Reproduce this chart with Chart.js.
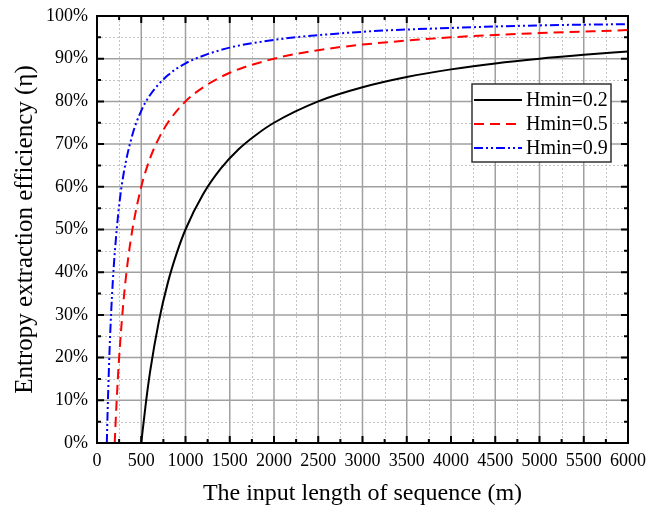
<!DOCTYPE html>
<html>
<head>
<meta charset="utf-8">
<script src="https://cdn.jsdelivr.net/npm/chart.js@4.4.0/dist/chart.umd.min.js"></script>
<style>
  html, body { margin: 0; background: #fff; }
  #wrap { width: 660px; height: 508px; }
</style>
</head>
<body>
<div id="wrap"><canvas id="effChart"></canvas></div>
<script>
// values
const seriesLabels = ['Hmin=0.2', 'Hmin=0.5', 'Hmin=0.9'];

const lengthA = [500, 550, 600, 700, 800, 900, 1000, 1200, 1400, 1600, 1800, 2000, 2500, 3000, 3500, 4000, 4500, 5000, 5500, 6000];
const effA    = [0, 9, 16.7, 28.6, 37.5, 44.4, 50, 58.3, 64.3, 68.8, 72.2, 75, 80, 83.3, 85.7, 87.5, 88.9, 90, 90.9, 91.7];

const lengthB = [200, 220, 250, 300, 350, 400, 500, 600, 700, 800, 1000, 1200, 1500, 2000, 2500, 3000, 4000, 5000, 6000];
const effB    = [0, 9, 20, 33.3, 42.9, 50, 60, 66.7, 71.4, 75, 80, 83.3, 86.7, 90, 92, 93.3, 95, 96, 96.7];

const lengthC = [111, 120, 140, 160, 180, 200, 250, 300, 400, 500, 600, 800, 1000, 1200, 1500, 2000, 3000, 4000, 5000, 6000];
const effC    = [0, 7.4, 20.6, 30.6, 38.3, 44.4, 55.6, 63, 72.2, 77.8, 81.5, 86.1, 88.9, 90.7, 92.6, 94.4, 96.3, 97.2, 97.8, 98.1];

const xMajor = [0, 500, 1000, 1500, 2000, 2500, 3000, 3500, 4000, 4500, 5000, 5500, 6000];
const yMajor = [0, 10, 20, 30, 40, 50, 60, 70, 80, 90, 100];

const serif = "'Liberation Serif', 'Times New Roman', serif";

function pts(xs, ys) {
  return xs.map((x, i) => ({x: x, y: ys[i]}));
}

const frameGrid = {
  id: 'frameGrid',
  beforeDatasetsDraw(chart) {
    const {ctx, chartArea: a, scales: {x, y}} = chart;
    ctx.save();
    // minor dotted grid
    ctx.strokeStyle = '#c4c4c4';
    ctx.lineWidth = 1;
    ctx.setLineDash([2, 2]);
    for (let i = 0; i < xMajor.length - 1; i++) {
      const px = Math.round(x.getPixelForValue((xMajor[i] + xMajor[i + 1]) / 2)) + 0.5;
      ctx.beginPath(); ctx.moveTo(px, a.top); ctx.lineTo(px, a.bottom); ctx.stroke();
    }
    for (let i = 0; i < yMajor.length - 1; i++) {
      const py = Math.round(y.getPixelForValue((yMajor[i] + yMajor[i + 1]) / 2)) + 0.5;
      ctx.beginPath(); ctx.moveTo(a.left, py); ctx.lineTo(a.right, py); ctx.stroke();
    }
    // major solid grid
    ctx.setLineDash([]);
    ctx.strokeStyle = '#a0a0a0';
    ctx.lineWidth = 1.5;
    xMajor.forEach(v => {
      const px = x.getPixelForValue(v);
      ctx.beginPath(); ctx.moveTo(px, a.top); ctx.lineTo(px, a.bottom); ctx.stroke();
    });
    yMajor.forEach(v => {
      const py = y.getPixelForValue(v);
      ctx.beginPath(); ctx.moveTo(a.left, py); ctx.lineTo(a.right, py); ctx.stroke();
    });
    ctx.restore();
  },
  afterDatasetsDraw(chart) {
    const {ctx, chartArea: a, scales: {x, y}} = chart;
    ctx.save();
    ctx.strokeStyle = '#000';
    ctx.lineWidth = 2;
    ctx.strokeRect(a.left, a.top, a.right - a.left, a.bottom - a.top);
    // inward ticks on all four sides
    xMajor.forEach((v, i) => {
      const px = x.getPixelForValue(v);
      ctx.beginPath();
      ctx.moveTo(px, a.bottom); ctx.lineTo(px, a.bottom - 7);
      ctx.moveTo(px, a.top); ctx.lineTo(px, a.top + 7);
      if (i < xMajor.length - 1) {
        const pm = x.getPixelForValue((v + xMajor[i + 1]) / 2);
        ctx.moveTo(pm, a.bottom); ctx.lineTo(pm, a.bottom - 4);
        ctx.moveTo(pm, a.top); ctx.lineTo(pm, a.top + 4);
      }
      ctx.stroke();
    });
    yMajor.forEach((v, i) => {
      const py = y.getPixelForValue(v);
      ctx.beginPath();
      ctx.moveTo(a.left, py); ctx.lineTo(a.left + 7, py);
      ctx.moveTo(a.right, py); ctx.lineTo(a.right - 7, py);
      if (i < yMajor.length - 1) {
        const pm = y.getPixelForValue((v + yMajor[i + 1]) / 2);
        ctx.moveTo(a.left, pm); ctx.lineTo(a.left + 4, pm);
        ctx.moveTo(a.right, pm); ctx.lineTo(a.right - 4, pm);
      }
      ctx.stroke();
    });

    // legend box
    const bx = 472, by = 84, bw = 139, bh = 78;
    ctx.fillStyle = '#fff';
    ctx.fillRect(bx, by, bw, bh);
    ctx.lineWidth = 1.5;
    ctx.strokeStyle = '#333';
    ctx.strokeRect(bx, by, bw, bh);
    ctx.font = '20px ' + serif;
    ctx.textBaseline = 'middle';
    chart.data.datasets.forEach((ds, i) => {
      const ly = by + 16 + i * 24;
      ctx.strokeStyle = ds.borderColor;
      ctx.lineWidth = ds.borderWidth;
      ctx.setLineDash(ds.borderDash || []);
      ctx.beginPath(); ctx.moveTo(bx + 2, ly); ctx.lineTo(bx + 50, ly); ctx.stroke();
      ctx.setLineDash([]);
      ctx.fillStyle = '#000';
      ctx.fillText(ds.label, bx + 54, ly + 1);
    });
    ctx.restore();
  }
};

new Chart(document.getElementById('effChart'), {
  type: 'line',
  data: {
    datasets: [
      {label: seriesLabels[0], data: pts(lengthA, effA), borderColor: '#000000', borderWidth: 2, borderDash: []},
      {label: seriesLabels[1], data: pts(lengthB, effB), borderColor: '#ff0000', borderWidth: 2, borderDash: [10, 6]},
      {label: seriesLabels[2], data: pts(lengthC, effC), borderColor: '#0000ff', borderWidth: 2, borderDash: [9, 3, 2, 3, 2, 3]}
    ]
  },
  options: {
    responsive: true,
    maintainAspectRatio: false,
    animation: false,
    layout: {padding: {top: 16, right: 32, left: 0, bottom: 0}},
    elements: {
      point: {radius: 0},
      line: {cubicInterpolationMode: 'monotone', fill: false}
    },
    plugins: {legend: {display: false}, tooltip: {enabled: false}},
    scales: {
      x: {
        type: 'linear', min: 0, max: 6000,
        afterFit(s) { s.height = 65; s.paddingLeft = 0; s.paddingRight = 0; },
        grid: {display: false, drawTicks: false},
        border: {display: false},
        ticks: {stepSize: 500, color: '#000', padding: 7, maxRotation: 0, autoSkip: false,
                font: {family: serif, size: 18}, callback: v => String(v)},
        title: {display: true, text: 'The input length of sequence (m)', color: '#000',
                font: {family: serif, size: 24}, padding: {top: 0, bottom: 0}}
      },
      y: {
        min: 0, max: 100,
        afterFit(s) { s.width = 97; s.paddingTop = 0; s.paddingBottom = 0; },
        grid: {display: false, drawTicks: false},
        border: {display: false},
        ticks: {stepSize: 10, color: '#000', padding: 9,
                font: {family: serif, size: 18},
                callback: v => v + '%'},
        title: {display: true, text: 'Entropy extraction efficiency (η)', color: '#000',
                font: {family: serif, size: 25}, padding: {top: 10, bottom: 0}}
      }
    }
  },
  plugins: [frameGrid]
});
</script>
</body>
</html>
